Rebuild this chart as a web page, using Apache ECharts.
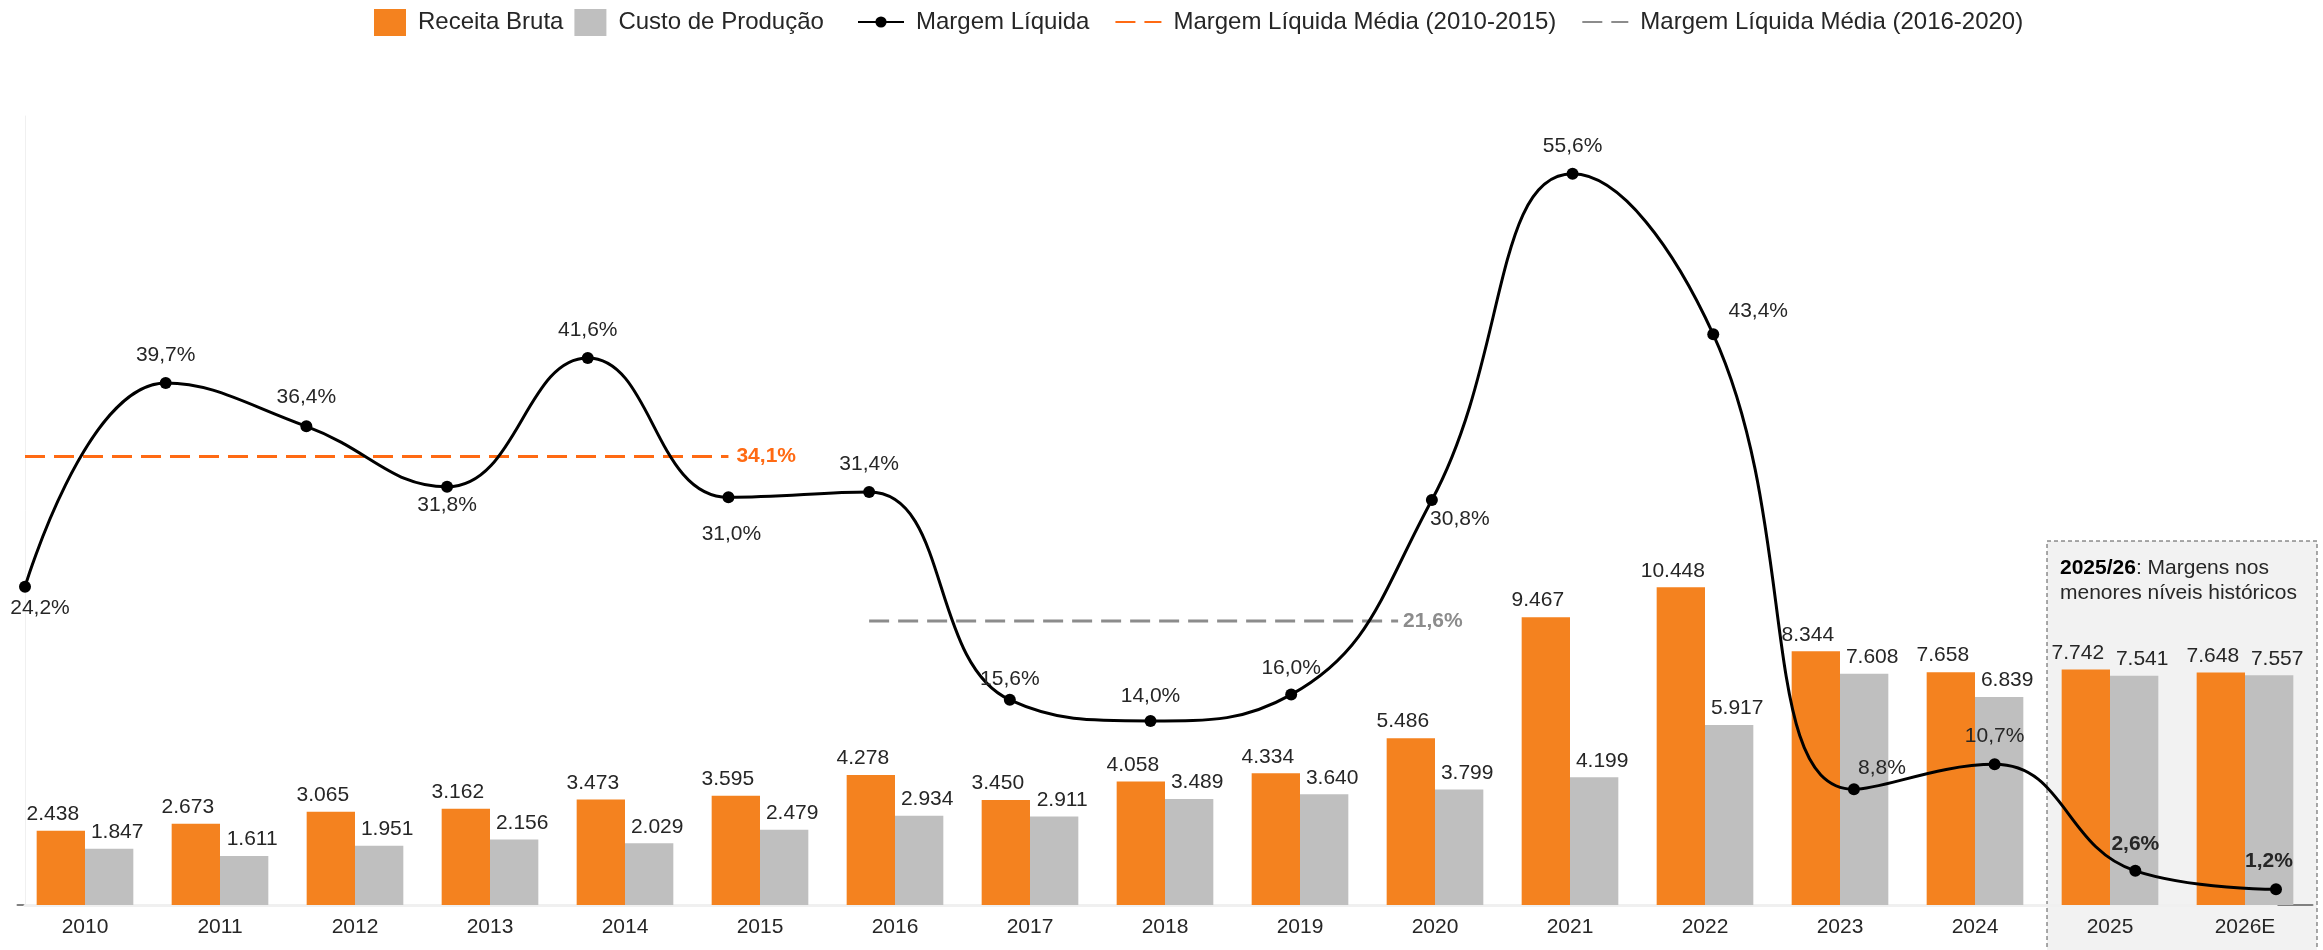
<!DOCTYPE html>
<html>
<head>
<meta charset="utf-8">
<title>Receita, custo e margem</title>
<script src="https://cdn.jsdelivr.net/npm/echarts@6/dist/echarts.min.js"></script>
<style>
  html, body { margin: 0; padding: 0; background: #fff; }
  #chart { width: 2323px; height: 950px; }
</style>
</head>
<body>
<div id="chart"></div>
<script>
// dados
var anos = ['2010', '2011', '2012', '2013', '2014', '2015', '2016', '2017', '2018',
  '2019', '2020', '2021', '2022', '2023', '2024', '2025', '2026E'];
var receitaBruta = [2438, 2673, 3065, 3162, 3473, 3595, 4278, 3450, 4058, 4334, 5486,
  9467, 10448, 8344, 7658, 7742, 7648];
var custoProducao = [1847, 1611, 1951, 2156, 2029, 2479, 2934, 2911, 3489, 3640, 3799,
  4199, 5917, 7608, 6839, 7541, 7557];
var margemLiquida = [24.2, 39.7, 36.4, 31.8, 41.6, 31.0, 31.4, 15.6, 14.0, 16.0, 30.8,
  55.6, 43.4, 8.8, 10.7, 2.6, 1.2];
var mediaA = [34.1];          // 2010-2015
var mediaAPeriodo = [0, 5];   // índices dos anos
var mediaB = [21.6];          // 2016-2020
var mediaBPeriodo = [6, 9.76];

var FONT = "'Liberation Sans', Arial, sans-serif";
var TXT = '#262626';

function milhar(v) {
  return String(v).replace(/\B(?=(\d{3})+(?!\d))/g, '.');
}
function pct(v) {
  return v.toFixed(1).replace('.', ',') + '%';
}

// posição dos rótulos da margem (por ponto)
var rotulos = {
  0: { position: 'bottom', distance: 5, offset: [15, 0] },
  1: { position: 'top', distance: 11 },
  2: { position: 'top', distance: 13 },
  3: { position: 'bottom', distance: 2 },
  4: { position: 'top', distance: 11 },
  5: { position: 'bottom', distance: 20, offset: [3, 0] },
  6: { position: 'top', distance: 11 },
  7: { position: 'top', distance: 4 },
  8: { position: 'top', distance: 8 },
  9: { position: 'top', distance: 10 },
  10: { position: 'bottom', distance: 3, offset: [28, 0] },
  11: { position: 'top', distance: 11 },
  12: { position: 'top', distance: 7, offset: [45, 0] },
  13: { position: 'top', distance: 5, offset: [28, 0] },
  14: { position: 'top', distance: 12 },
  15: { position: 'top', distance: 10, fontWeight: 'bold' },
  16: { position: 'top', distance: 12, offset: [-7, 0], fontWeight: 'bold' }
};

var legendaTexto = { fontSize: 24, color: TXT, fontFamily: FONT, padding: [0, 0, 0, 7] };

var chart = echarts.init(document.getElementById('chart'));

chart.setOption({
  backgroundColor: '#fff',
  animation: false,
  textStyle: { fontFamily: FONT },
  legend: [
    {
      data: ['Receita Bruta', 'Custo de Produção'],
      left: 369, top: 4,
      icon: 'rect',
      itemWidth: 32, itemHeight: 27, itemGap: 11,
      textStyle: legendaTexto
    },
    {
      data: [
        'Margem Líquida',
        { name: 'Margem Líquida Média (2010-2015)', itemStyle: { opacity: 0 } },
        { name: 'Margem Líquida Média (2016-2020)', itemStyle: { opacity: 0 } }
      ],
      left: 852, top: 5,
      itemWidth: 46, itemHeight: 14, itemGap: 25,
      textStyle: legendaTexto
    }
  ],
  grid: [
    { left: 17.5, right: 10.5, top: 116, bottom: 45 },
    { left: 25, right: 47, top: 116, bottom: 45 }
  ],
  xAxis: [
    {
      type: 'category', gridIndex: 0, data: anos,
      axisLine: { lineStyle: { color: '#808080', width: 2 } },
      axisTick: { show: false },
      axisLabel: { fontSize: 21, color: TXT, margin: 12, fontFamily: FONT }
    },
    {
      type: 'value', gridIndex: 1, min: 0, max: 16,
      axisLine: { show: true, onZero: false, lineStyle: { color: '#f0f0f0', width: 3 } },
      axisTick: { show: false }, axisLabel: { show: false }, splitLine: { show: false }
    }
  ],
  yAxis: [
    { type: 'value', gridIndex: 0, min: 0, max: 25950, show: false },
    {
      type: 'value', gridIndex: 1, min: 0, max: 60,
      axisLine: { show: true, lineStyle: { color: '#f0f0f0', width: 1 } },
      axisTick: { show: false }, axisLabel: { show: false }, splitLine: { show: false }
    }
  ],
  graphic: [
    {
      type: 'rect', z: 0,
      shape: { x: 2047, y: 541, width: 270, height: 430 },
      style: { fill: '#f2f2f2', stroke: '#555', lineWidth: 1, lineDash: [4, 3] }
    },
    {
      type: 'text', z: 100, left: 2060, top: 556,
      style: {
        text: '{b|2025/26}: Margens nos\nmenores níveis históricos',
        font: '21px ' + FONT, fill: TXT, lineHeight: 25,
        rich: { b: { fontWeight: 'bold', fontSize: 21, fontFamily: FONT, fill: '#000', lineHeight: 25 } }
      }
    }
  ],
  series: [
    {
      name: 'Receita Bruta', type: 'bar', xAxisIndex: 0, yAxisIndex: 0,
      data: receitaBruta, barGap: '0%', barCategoryGap: '28.4%',
      itemStyle: { color: '#f4821f' },
      label: {
        show: true, position: 'top', distance: 6, offset: [-8, 0],
        fontSize: 21, color: TXT, fontFamily: FONT,
        formatter: function (p) { return milhar(p.value); }
      }
    },
    {
      name: 'Custo de Produção', type: 'bar', xAxisIndex: 0, yAxisIndex: 0,
      data: custoProducao,
      itemStyle: { color: '#bfbfbf' },
      label: {
        show: true, position: 'top', distance: 6, offset: [8, 0],
        fontSize: 21, color: TXT, fontFamily: FONT,
        formatter: function (p) { return milhar(p.value); }
      }
    },
    {
      name: 'Margem Líquida', type: 'line', xAxisIndex: 1, yAxisIndex: 1,
      smooth: 0.45, z: 5,
      symbol: 'circle', symbolSize: 12,
      itemStyle: { color: '#000' },
      lineStyle: { color: '#000', width: 3 },
      label: {
        show: true, fontSize: 21, color: TXT, fontFamily: FONT,
        formatter: function (p) { return pct(p.value[1]); }
      },
      data: margemLiquida.map(function (v, i) {
        return { value: [i, v], label: rotulos[i] };
      })
    },
    {
      name: 'Margem Líquida Média (2010-2015)', type: 'line', xAxisIndex: 1, yAxisIndex: 1,
      symbol: 'none', z: 4,
      itemStyle: { color: '#ff6a13' },
      lineStyle: { color: '#ff6a13', width: 3, type: [20, 9] },
      endLabel: {
        show: true, distance: 8, fontSize: 21, fontWeight: 'bold', color: '#ff6a13',
        fontFamily: FONT, formatter: function (p) { return pct(p.value[1]); }
      },
      data: mediaAPeriodo.map(function (x) { return [x, mediaA[0]]; })
    },
    {
      name: 'Margem Líquida Média (2016-2020)', type: 'line', xAxisIndex: 1, yAxisIndex: 1,
      symbol: 'none', z: 4,
      itemStyle: { color: '#8c8c8c' },
      lineStyle: { color: '#8c8c8c', width: 3, type: [20, 9] },
      endLabel: {
        show: true, distance: 5, fontSize: 21, fontWeight: 'bold', color: '#8c8c8c',
        fontFamily: FONT, formatter: function (p) { return pct(p.value[1]); }
      },
      data: mediaBPeriodo.map(function (x) { return [x, mediaB[0]]; })
    }
  ]
});
</script>
</body>
</html>
